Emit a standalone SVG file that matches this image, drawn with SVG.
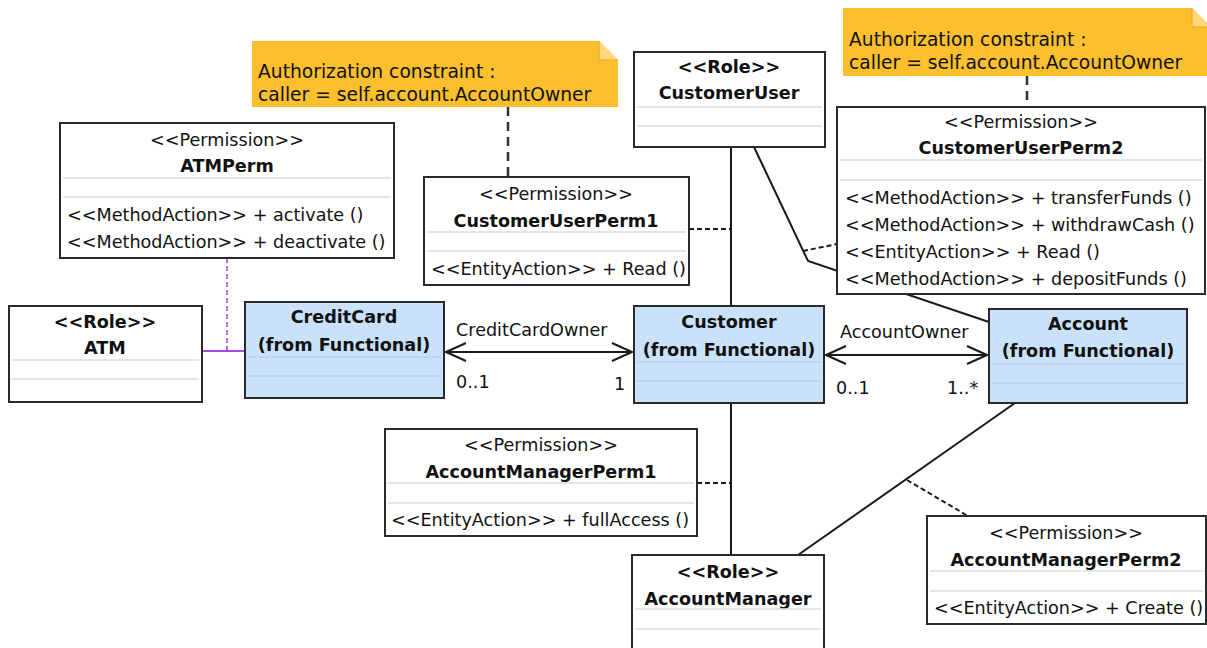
<svg xmlns="http://www.w3.org/2000/svg" width="1207" height="648" viewBox="0 0 1207 648">
<defs>
<style>
.box{fill:#fff;stroke:#2a2a2a;stroke-width:2}
.cls{fill:#c9e2f9;stroke:#2a2a2a;stroke-width:2}
.sep{stroke:#dcdcdc;stroke-width:1.5}
.sepb{stroke:#b0c8de;stroke-width:1.2}
text{font-family:"DejaVu Sans","Liberation Sans",sans-serif;fill:#111;dominant-baseline:central}
.st{font-size:17.6px;text-anchor:middle}
.nm{font-size:17.6px;font-weight:bold;text-anchor:middle}
.op{font-size:17.6px}
.lbl{font-size:17.6px}
.nt{font-size:18.7px}
.note{fill:#fcbf2e}
.fold{fill:#fdd77a;stroke:#e2a920;stroke-width:1}
.ln{stroke:#1a1a1a;stroke-width:2;fill:none}
.dsh{stroke:#1a1a1a;stroke-width:2;fill:none;stroke-dasharray:5 3}
.ndsh{stroke:#333;stroke-width:2.5;fill:none;stroke-dasharray:9 6}
.pur{stroke:#a44ce6;stroke-width:2;fill:none}
.purd{stroke:#a44ce6;stroke-width:1.6;fill:none;stroke-dasharray:5 3}
</style>
<marker id="open" markerUnits="userSpaceOnUse" markerWidth="24" markerHeight="24" viewBox="-22 -12 24 24" refX="0" refY="0" orient="auto-start-reverse">
<path d="M-20,-9 L0,0 L-20,9" fill="none" stroke="#1a1a1a" stroke-width="2"/>
</marker>
</defs>
<rect width="1207" height="648" fill="#fff"/>

<g id="connectors">
<line class="ndsh" x1="508" y1="107" x2="508" y2="177"/>
<line class="ndsh" x1="1027" y1="76" x2="1027" y2="107"/>
<line class="purd" x1="227" y1="258" x2="227" y2="351"/>
<line class="pur" x1="202" y1="351" x2="245" y2="351"/>
<line class="ln" x1="446" y1="352" x2="632" y2="352" marker-start="url(#open)" marker-end="url(#open)"/>
<line class="ln" x1="826" y1="355" x2="987" y2="355" marker-start="url(#open)" marker-end="url(#open)"/>
<line class="ln" x1="731" y1="147" x2="731" y2="306"/>
<line class="ln" x1="731" y1="403" x2="731" y2="555"/>
<line class="dsh" x1="689" y1="229" x2="731" y2="229"/>
<line class="dsh" x1="697" y1="483" x2="731" y2="483"/>
<polyline class="ln" points="754,147 808,261 989,322"/>
<line class="dsh" x1="803" y1="251" x2="837" y2="244"/>
<line class="ln" x1="1015" y1="403" x2="798" y2="555"/>
<line class="dsh" x1="907" y1="480" x2="968" y2="516"/>
<text class="lbl" x="456" y="330">CreditCardOwner</text>
<text class="lbl" x="456" y="382">0..1</text>
<text class="lbl" x="614" y="384">1</text>
<text class="lbl" x="840" y="332">AccountOwner</text>
<text class="lbl" x="836" y="388">0..1</text>
<text class="lbl" x="947" y="388">1..*</text>
</g>

<g id="note1">
<path class="note" d="M252,41 H599 L618,60 V107 H252 Z"/>
<path class="fold" d="M599,41 V60 H618"/>
<text class="nt" x="258" y="71">Authorization constraint :</text>
<text class="nt" x="258" y="94">caller = self.account.AccountOwner</text>
</g>

<g id="note2">
<path class="note" d="M843,8 H1192 L1211,27 V76 H843 Z"/>
<path class="fold" d="M1192,8 V27 H1211"/>
<text class="nt" x="849" y="39">Authorization constraint :</text>
<text class="nt" x="849" y="62">caller = self.account.AccountOwner</text>
</g>

<g id="ATMPerm">
<rect class="box" x="60" y="123" width="334" height="135"/>
<text class="st" x="227" y="140">&lt;&lt;Permission&gt;&gt;</text>
<text class="nm" x="227" y="166">ATMPerm</text>
<line class="sep" x1="63" y1="178" x2="391" y2="178"/>
<line class="sep" x1="63" y1="197" x2="391" y2="197"/>
<text class="op" x="67" y="215">&lt;&lt;MethodAction&gt;&gt; + activate ()</text>
<text class="op" x="67" y="242">&lt;&lt;MethodAction&gt;&gt; + deactivate ()</text>
</g>

<g id="ATM">
<rect class="box" x="9" y="306" width="193" height="96"/>
<text class="nm" x="105" y="322">&lt;&lt;Role&gt;&gt;</text>
<text class="nm" x="105" y="348">ATM</text>
<line class="sep" x1="12" y1="360" x2="199" y2="360"/>
<line class="sep" x1="12" y1="379" x2="199" y2="379"/>
</g>

<g id="CreditCard">
<rect class="cls" x="245" y="302" width="199" height="96"/>
<text class="nm" x="344" y="317">CreditCard</text>
<text class="nm" x="344" y="345">(from Functional)</text>
<line class="sepb" x1="248" y1="357" x2="441" y2="357"/>
<line class="sepb" x1="248" y1="376" x2="441" y2="376"/>
</g>

<g id="CustomerUserPerm1">
<rect class="box" x="424" y="177" width="265" height="108"/>
<text class="st" x="556" y="194">&lt;&lt;Permission&gt;&gt;</text>
<text class="nm" x="556" y="221">CustomerUserPerm1</text>
<line class="sep" x1="427" y1="232" x2="686" y2="232"/>
<line class="sep" x1="427" y1="251" x2="686" y2="251"/>
<text class="op" x="431" y="269">&lt;&lt;EntityAction&gt;&gt; + Read ()</text>
</g>

<g id="CustomerUser">
<rect class="box" x="634" y="52" width="191" height="95"/>
<text class="nm" x="729" y="67">&lt;&lt;Role&gt;&gt;</text>
<text class="nm" x="729" y="93">CustomerUser</text>
<line class="sep" x1="637" y1="107" x2="822" y2="107"/>
<line class="sep" x1="637" y1="126" x2="822" y2="126"/>
</g>

<g id="CustomerUserPerm2">
<rect class="box" x="837" y="107" width="368" height="187"/>
<text class="st" x="1021" y="122">&lt;&lt;Permission&gt;&gt;</text>
<text class="nm" x="1021" y="148">CustomerUserPerm2</text>
<line class="sep" x1="840" y1="160" x2="1202" y2="160"/>
<line class="sep" x1="840" y1="180" x2="1202" y2="180"/>
<text class="op" x="845" y="198">&lt;&lt;MethodAction&gt;&gt; + transferFunds ()</text>
<text class="op" x="845" y="225">&lt;&lt;MethodAction&gt;&gt; + withdrawCash ()</text>
<text class="op" x="845" y="252">&lt;&lt;EntityAction&gt;&gt; + Read ()</text>
<text class="op" x="845" y="279">&lt;&lt;MethodAction&gt;&gt; + depositFunds ()</text>
</g>

<g id="Customer">
<rect class="cls" x="634" y="306" width="190" height="97"/>
<text class="nm" x="729" y="322">Customer</text>
<text class="nm" x="729" y="350">(from Functional)</text>
<line class="sepb" x1="637" y1="362" x2="821" y2="362"/>
<line class="sepb" x1="637" y1="381" x2="821" y2="381"/>
</g>

<g id="Account">
<rect class="cls" x="989" y="309" width="198" height="94"/>
<text class="nm" x="1088" y="324">Account</text>
<text class="nm" x="1088" y="351">(from Functional)</text>
<line class="sepb" x1="992" y1="364" x2="1184" y2="364"/>
<line class="sepb" x1="992" y1="383" x2="1184" y2="383"/>
</g>

<g id="AccountManagerPerm1">
<rect class="box" x="385" y="429" width="312" height="107"/>
<text class="st" x="541" y="445">&lt;&lt;Permission&gt;&gt;</text>
<text class="nm" x="541" y="472">AccountManagerPerm1</text>
<line class="sep" x1="388" y1="483" x2="694" y2="483"/>
<line class="sep" x1="388" y1="503" x2="694" y2="503"/>
<text class="op" x="391" y="520">&lt;&lt;EntityAction&gt;&gt; + fullAccess ()</text>
</g>

<g id="AccountManager">
<rect class="box" x="632" y="555" width="192" height="100"/>
<text class="nm" x="728" y="572">&lt;&lt;Role&gt;&gt;</text>
<text class="nm" x="728" y="599">AccountManager</text>
<line class="sep" x1="635" y1="609" x2="821" y2="609"/>
<line class="sep" x1="635" y1="629" x2="821" y2="629"/>
</g>

<g id="AccountManagerPerm2">
<rect class="box" x="927" y="516" width="279" height="108"/>
<text class="st" x="1066" y="533">&lt;&lt;Permission&gt;&gt;</text>
<text class="nm" x="1066" y="560">AccountManagerPerm2</text>
<line class="sep" x1="930" y1="571" x2="1203" y2="571"/>
<line class="sep" x1="930" y1="591" x2="1203" y2="591"/>
<text class="op" x="934" y="608">&lt;&lt;EntityAction&gt;&gt; + Create ()</text>
</g>
</svg>
